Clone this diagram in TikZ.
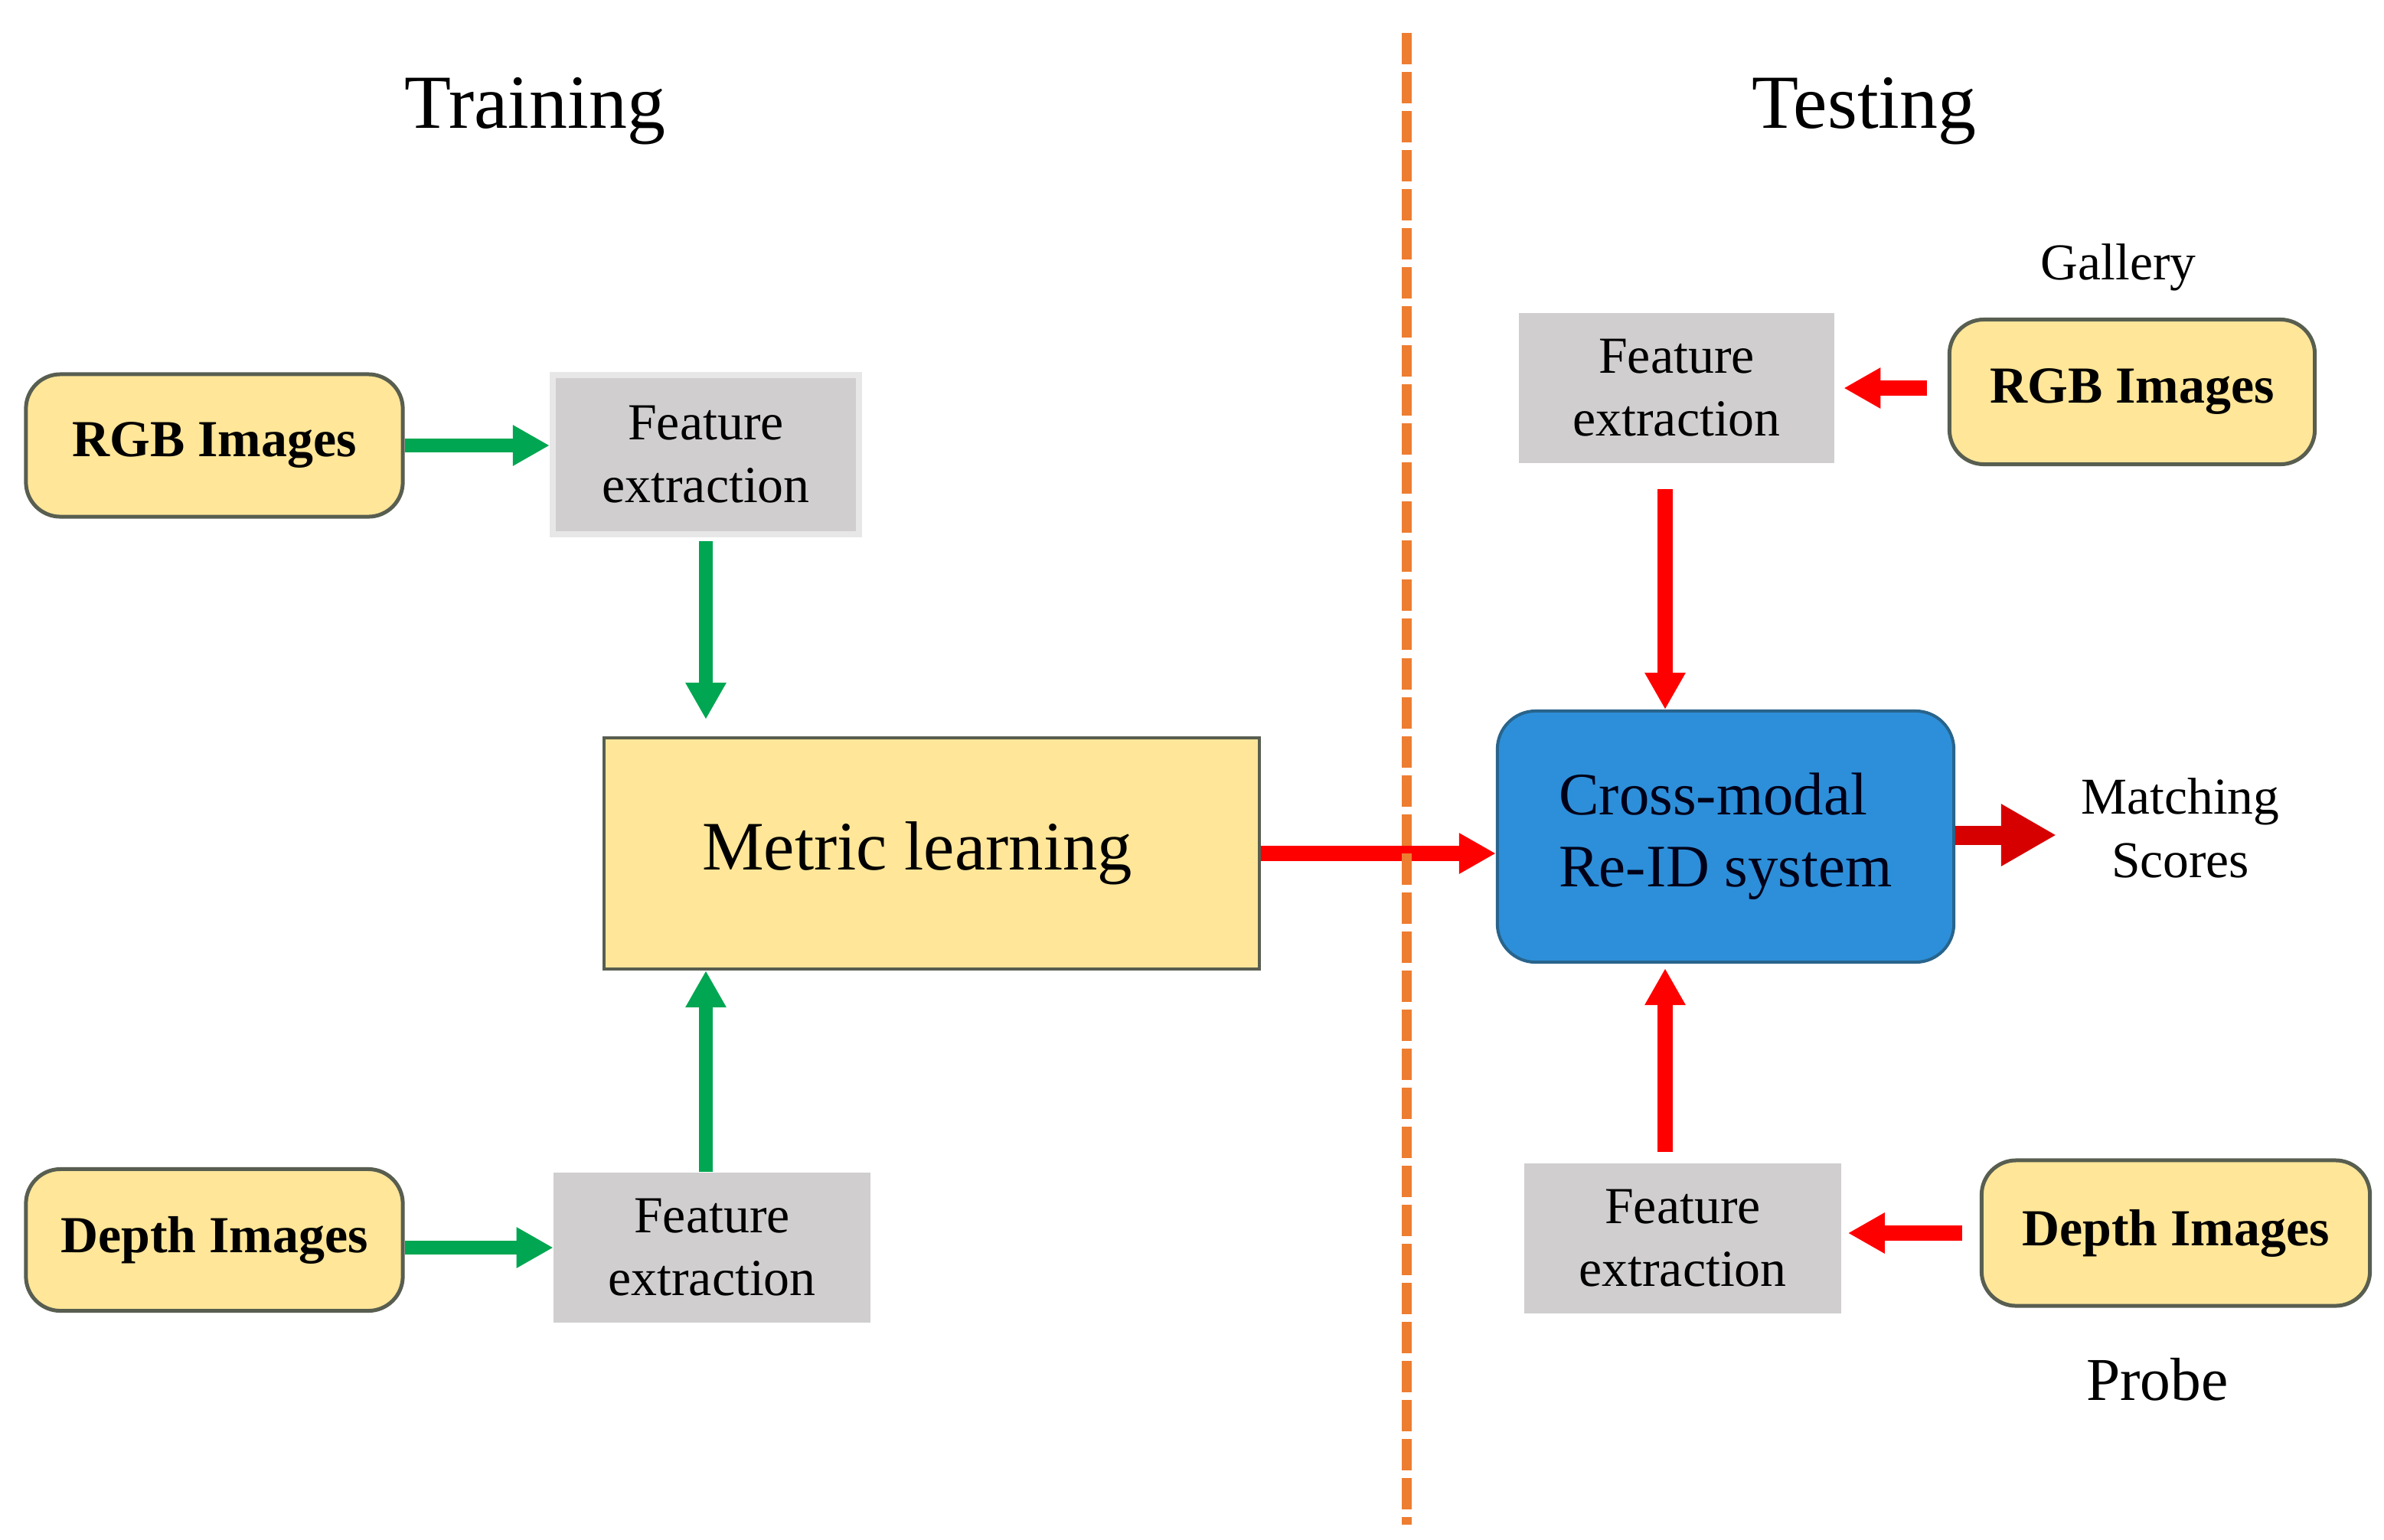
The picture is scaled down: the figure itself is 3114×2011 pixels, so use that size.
\documentclass[tikz,border=0pt]{standalone}
\usepackage{fontspec}
\setmainfont{Liberation Serif}
\usetikzlibrary{arrows.meta,calc}
\definecolor{yfill}{RGB}{255,230,153}
\definecolor{yborder}{RGB}{88,94,80}
\definecolor{gfill}{RGB}{208,206,206}
\definecolor{gframe}{RGB}{232,231,231}
\definecolor{bfill}{RGB}{45,143,217}
\definecolor{bborder}{RGB}{40,100,140}
\definecolor{mgreen}{RGB}{0,166,81}
\definecolor{mred}{RGB}{255,0,0}
\definecolor{dred}{RGB}{215,0,0}
\definecolor{morange}{RGB}{237,125,49}
\begin{document}
\begin{tikzpicture}[x=0.01cm,y=-0.01cm,
  ybox/.style={draw=yborder, fill=yfill, line width=0.05cm, rounded corners=0.45cm,
    font=\fontsize{19.3}{23}\selectfont\bfseries, inner sep=0pt},
  gbox/.style={fill=gfill, align=center, inner sep=0pt,
    font=\fontsize{19.3}{23.3}\selectfont},
  plain/.style={inner sep=0pt, align=center},
  garrow/.style={draw=mgreen, line width=0.18cm, -{Triangle[width=0.5cm,length=0.48cm]}},
  rarrow/.style={draw=mred, line width=0.2cm, -{Triangle[width=0.5cm,length=0.48cm]}},
  bigarrow/.style={draw=dred, line width=0.25cm, -{Triangle[width=0.76cm,length=0.72cm]}},
  divider/.style={draw=morange, line width=0.13cm, dash pattern=on 0.41cm off 0.10cm}
]
\useasboundingbox (0,0) rectangle (3114,2011);
\fill[white] (0,0) rectangle (3114,2011);

% titles
\node[plain, anchor=base, font=\fontsize{28.4}{34}\selectfont] (train) at (699,167) {Training};
\node[plain, anchor=base, font=\fontsize{28.4}{34}\selectfont] (test) at (2435,167) {Testing};

% training side
\node[ybox, minimum width=4.92cm, minimum height=1.86cm] (rgbL) at (280,582) {RGB Images};
\node[gbox, draw=gframe, line width=0.08cm, minimum width=4.0cm, minimum height=2.08cm] (feTL) at (922,594) {Feature\\extraction};
\node[draw=yborder, fill=yfill, line width=0.04cm, inner sep=0pt, minimum width=8.56cm, minimum height=3.02cm] (metric) at (1217,1115) {};
\node[plain, font=\fontsize{25.8}{30}\selectfont] (metrictext) at (1198,1115) {Metric learning};
\node[ybox, minimum width=4.92cm, minimum height=1.85cm] (depthL) at (280,1620) {Depth Images};
\node[gbox, minimum width=4.13cm, minimum height=1.96cm] (feBL) at (930,1630) {Feature\\extraction};

% testing side
\node[plain, anchor=base, font=\fontsize{19.2}{23}\selectfont] (gallery) at (2767,365) {Gallery};
\node[gbox, minimum width=4.11cm, minimum height=1.95cm] (feTR) at (2190,507) {Feature\\extraction};
\node[ybox, minimum width=4.77cm, minimum height=1.89cm] (rgbR) at (2785,512) {RGB Images};
\node[draw=bborder, fill=bfill, line width=0.04cm, rounded corners=0.5cm, inner sep=0pt,
  minimum width=5.96cm, minimum height=3.28cm, align=left,
  font=\fontsize{22.4}{26.7}\selectfont, text=black!90!blue] (reid) at (2254,1093) {Cross-modal\\Re-ID system};
\node[plain, font=\fontsize{19.2}{23.6}\selectfont] (scores) at (2848,1082) {Matching\\Scores};
\node[gbox, minimum width=4.14cm, minimum height=1.95cm] (feBR) at (2198,1618) {Feature\\extraction};
\node[ybox, minimum width=5.07cm, minimum height=1.90cm] (depthR) at (2842,1611) {Depth Images};
\node[plain, anchor=base, font=\fontsize{22.6}{27}\selectfont] (probe) at (2818,1829) {Probe};

\coordinate (msTip) at (2686,1091);
\coordinate (divTop) at (1837,43);
\coordinate (divBot) at (1837,1992);
\coordinate (downStart) at ($(feTR.south)+(-15,0)$);
\coordinate (upStart) at ($(feBR.north)+(-23,0)$);

% training arrows
\draw[garrow] (rgbL.east) -- (rgbL.east -| feTL.west);
\draw[garrow, shorten <=0.05cm, shorten >=0.22cm] (feTL.south) -- (feTL.south |- metric.north);
\draw[garrow] (feTL.south |- feBL.north) -- (feTL.south |- metric.south);
\draw[garrow] (depthL.east |- feBL.west) -- (feBL.west);

% testing arrows
\draw[rarrow] (metric.east) -- (metric.east -| reid.west);
\draw[rarrow, shorten <=0.27cm, shorten >=0.12cm] (rgbR.west |- feTR.east) -- (feTR.east);
\draw[rarrow, shorten <=0.34cm] (downStart) -- (downStart |- reid.north);
\draw[rarrow, shorten <=0.15cm, shorten >=0.06cm] (upStart) -- (upStart |- reid.south);
\draw[rarrow, shorten <=0.23cm, shorten >=0.08cm] (depthR.west) -- (depthR.west -| feBR.east);
\draw[bigarrow] (reid.east |- msTip) -- (msTip);

% divider
\draw[divider] (divTop) -- (divBot);
\end{tikzpicture}
\end{document}
